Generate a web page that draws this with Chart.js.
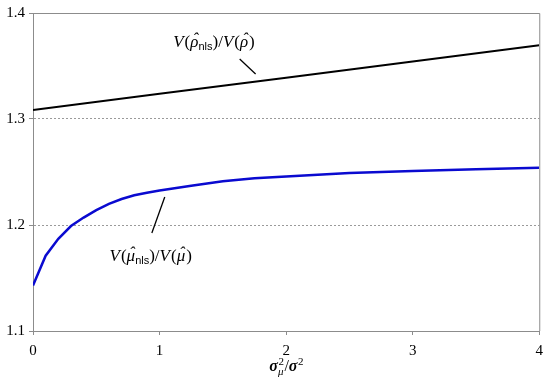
<!DOCTYPE html>
<html>
<head>
<meta charset="utf-8">
<script src="https://cdn.jsdelivr.net/npm/chart.js@4"></script>
<style>
html,body{margin:0;padding:0;background:#fff;}
#wrap{width:550px;height:382px;}
</style>
</head>
<body>
<div id="wrap"><canvas id="c" width="550" height="382"></canvas></div>
<script>
// ---- data ----
const rhoX = [0, 1, 2, 3, 4];
const rhoY = [1.3085, 1.3238, 1.3390, 1.3543, 1.3695];

const muX = [0, 0.1, 0.2, 0.3, 0.4, 0.5, 0.6, 0.7, 0.8, 0.9, 1.0, 1.25, 1.5, 1.75, 2.0, 2.5, 3.0, 3.5, 4.0];
const muY = [1.143, 1.171, 1.187, 1.199, 1.207, 1.214, 1.220, 1.2245, 1.228, 1.2305, 1.2325, 1.237, 1.2413, 1.2440, 1.2458, 1.2490, 1.2510, 1.2525, 1.2540];

const xTicks = [0, 1, 2, 3, 4];
const yTicks = [1.1, 1.2, 1.3, 1.4];
const gridValues = [1.2, 1.3];

// annotation anchors in data units (label anchor = text baseline centre)
const rhoLabelAt = {x: 1.43, y: 1.368};
const rhoLeader = [{x: 1.633, y: 1.3566}, {x: 1.759, y: 1.3425}];
const muLabelAt = {x: 0.93, y: 1.166};
const muLeader = [{x: 0.939, y: 1.1925}, {x: 1.041, y: 1.2264}];

const toPts = (xs, ys) => xs.map((x, i) => ({x: x, y: ys[i]}));

const SERIF = '"Liberation Serif", "DejaVu Serif", serif';
const SANS = '"Liberation Sans", Arial, sans-serif';
const AXIS_GRAY = '#8c8c8c';

function drawRich(ctx, segs, cx, cy) {
  let w = 0;
  segs.forEach(s => { ctx.font = s.f; s.w = ctx.measureText(s.t).width; w += s.w + (s.gap || 0); });
  let x = cx - w / 2;
  ctx.textBaseline = 'alphabetic';
  ctx.textAlign = 'left';
  ctx.fillStyle = '#000';
  segs.forEach(s => {
    ctx.font = s.f;
    ctx.fillText(s.t, x, cy + (s.dy || 0));
    if (s.hat) {
      ctx.save();
      ctx.font = s.hatFont || s.f;
      const hw = ctx.measureText('\u02C6').width;
      ctx.fillText('\u02C6', x + s.w / 2 - hw / 2 + (s.hatDx || 0), cy + (s.hatDy || 0));
      ctx.restore();
    }
    x += s.w + (s.gap || 0);
  });
}

const annotPlugin = {
  id: 'annot',
  afterDatasetsDraw(chart) {
    const ctx = chart.ctx;
    const xs = chart.scales.x, ys = chart.scales.y;
    const ca = chart.chartArea;
    ctx.save();
    // top and right border
    ctx.strokeStyle = AXIS_GRAY;
    ctx.lineWidth = 1;
    ctx.beginPath();
    ctx.moveTo(ca.left, ca.top + 0.5);
    ctx.lineTo(ca.right + 0.5, ca.top + 0.5);
    ctx.lineTo(ca.right + 0.5, ca.bottom);
    ctx.stroke();

    // leader lines
    ctx.strokeStyle = '#000';
    ctx.lineWidth = 1.3;
    [rhoLeader, muLeader].forEach(L => {
      ctx.beginPath();
      ctx.moveTo(xs.getPixelForValue(L[0].x), ys.getPixelForValue(L[0].y));
      ctx.lineTo(xs.getPixelForValue(L[1].x), ys.getPixelForValue(L[1].y));
      ctx.stroke();
    });

    const it = 'italic 17px ' + SERIF;
    const rm = '17px ' + SERIF;
    const sub = '11px ' + SANS;
    const mk = g => [
      {t: 'V', f: it, gap: 1},
      {t: '(', f: rm},
      {t: g, f: it, hat: true, hatDy: -3, hatDx: 1},
      {t: 'nls', f: sub, dy: 3},
      {t: ')/', f: rm},
      {t: 'V', f: it, gap: 1},
      {t: '(', f: rm},
      {t: g, f: it, hat: true, hatDy: -3, hatDx: 1, gap: 1},
      {t: ')', f: rm}
    ];
    drawRich(ctx, mk('\u03C1'), xs.getPixelForValue(rhoLabelAt.x), ys.getPixelForValue(rhoLabelAt.y));
    drawRich(ctx, mk('\u03BC'), xs.getPixelForValue(muLabelAt.x), ys.getPixelForValue(muLabelAt.y));

    // x axis title: sigma^2_mu / sigma^2
    const tx = (ca.left + ca.right) / 2;
    const ty = ca.bottom + 40;
    ctx.fillStyle = '#000';
    ctx.textBaseline = 'alphabetic';
    ctx.textAlign = 'left';
    const big = 'bold italic 16px ' + SERIF;
    ctx.font = big;
    const sw = ctx.measureText('\u03C3').width;
    ctx.font = '11px ' + SERIF;
    const supW = ctx.measureText('2').width;
    ctx.font = 'italic 11px ' + SERIF;
    const muW = ctx.measureText('\u03BC').width;
    ctx.font = '16px ' + SERIF;
    const slW = ctx.measureText('/').width;
    const total = sw + Math.max(supW, muW) + 1 + slW + sw + supW;
    let x = tx - total / 2;
    ctx.font = big;
    ctx.fillText('\u03C3', x, ty); x += sw;
    ctx.font = '11px ' + SERIF;
    ctx.fillText('2', x + 0.5, ty - 6);
    ctx.font = 'italic 11px ' + SERIF;
    ctx.fillText('\u03BC', x, ty + 4);
    x += Math.max(supW, muW) + 1;
    ctx.font = '16px ' + SERIF;
    ctx.fillText('/', x, ty); x += slW;
    ctx.font = big;
    ctx.fillText('\u03C3', x, ty); x += sw;
    ctx.font = '11px ' + SERIF;
    ctx.fillText('2', x + 0.5, ty - 6);
    ctx.restore();
  }
};

new Chart(document.getElementById('c'), {
  type: 'line',
  data: {
    datasets: [
      {data: toPts(rhoX, rhoY), borderColor: '#000', borderWidth: 2, pointRadius: 0, tension: 0, fill: false},
      {data: toPts(muX, muY), borderColor: '#0a0ad0', borderWidth: 2.5, pointRadius: 0, tension: 0, fill: false}
    ]
  },
  options: {
    responsive: false,
    devicePixelRatio: 1,
    animation: false,
    events: [],
    layout: {padding: {top: 13, right: 10, left: 0, bottom: 0}},
    plugins: {legend: {display: false}, tooltip: {enabled: false}},
    scales: {
      x: {
        type: 'linear', min: 0, max: 4,
        afterBuildTicks: s => { s.ticks = xTicks.map(v => ({value: v})); },
        afterFit: s => { s.height = 51; },
        border: {display: true, color: AXIS_GRAY, width: 1},
        grid: {drawOnChartArea: false, color: AXIS_GRAY, tickColor: AXIS_GRAY, tickLength: 4},
        ticks: {color: '#000', font: {family: SERIF, size: 15}, padding: 7, maxRotation: 0, callback: v => String(v)}
      },
      y: {
        type: 'linear', min: 1.1, max: 1.4,
        afterBuildTicks: s => { s.ticks = yTicks.map(v => ({value: v})); },
        afterFit: s => { s.width = 33; },
        border: {display: true, color: AXIS_GRAY, width: 1, dash: [2, 2]},
        grid: {
          color: c => gridValues.some(g => Math.abs(g - c.tick.value) < 1e-9) ? '#9a9a9a' : 'rgba(0,0,0,0)',
          tickColor: AXIS_GRAY, tickLength: 4, lineWidth: 1
        },
        ticks: {color: '#000', font: {family: SERIF, size: 15}, padding: 4, callback: v => v.toFixed(1)}
      }
    }
  },
  plugins: [annotPlugin]
});
</script>
</body>
</html>
